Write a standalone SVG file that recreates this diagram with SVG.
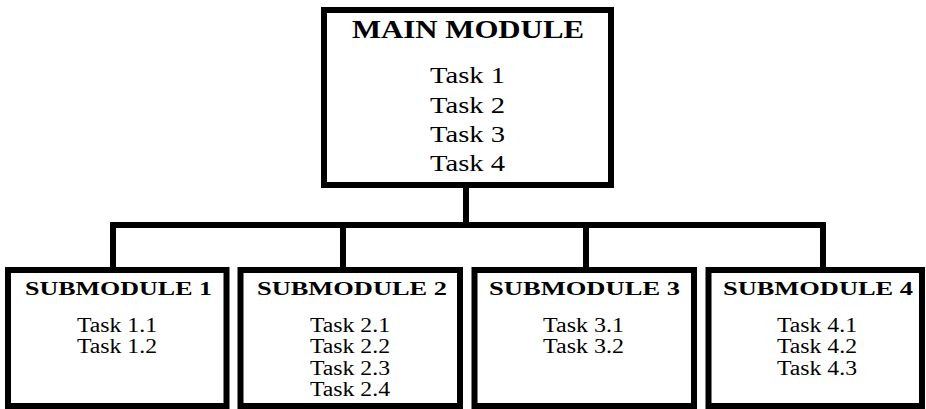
<svg xmlns="http://www.w3.org/2000/svg" width="926" height="409" viewBox="0 0 926 409">
<style>
.box{fill:#fff;stroke:#000;stroke-width:6}
.conn{fill:none;stroke:#000;stroke-width:6;stroke-linejoin:miter;stroke-linecap:square}
text{font-family:"Liberation Serif","DejaVu Serif",serif;fill:#000;text-anchor:middle}
.mt{font-size:25px;font-weight:bold}
.mtask{font-size:24px}
.st{font-size:18px;font-weight:bold}
.stask{font-size:20px}
</style>
<rect width="926" height="409" fill="#fff"/>
<g id="connectors">
<path class="conn" d="M466 185V225"/>
<path class="conn" d="M113 270V225H823V270"/>
<path class="conn" d="M343 225V270"/>
<path class="conn" d="M586 225V270"/>
</g>
<g id="main">
<rect class="box" x="324" y="10" width="287" height="175"/>
<text class="mt" x="468" y="38" textLength="232" lengthAdjust="spacingAndGlyphs">MAIN MODULE</text>
<text class="mtask" x="467.5" y="83" textLength="75" lengthAdjust="spacingAndGlyphs">Task 1</text>
<text class="mtask" x="467.5" y="112.5" textLength="75" lengthAdjust="spacingAndGlyphs">Task 2</text>
<text class="mtask" x="467.5" y="141.5" textLength="75" lengthAdjust="spacingAndGlyphs">Task 3</text>
<text class="mtask" x="467.5" y="170.5" textLength="75" lengthAdjust="spacingAndGlyphs">Task 4</text>
</g>
<g id="sub1">
<rect class="box" x="8" y="270" width="218.5" height="136"/>
<text class="st" x="118.5" y="295" textLength="187" lengthAdjust="spacingAndGlyphs">SUBMODULE 1</text>
<text class="stask" x="117" y="332" textLength="80" lengthAdjust="spacingAndGlyphs">Task 1.1</text>
<text class="stask" x="117" y="353" textLength="80" lengthAdjust="spacingAndGlyphs">Task 1.2</text>
</g>
<g id="sub2">
<rect class="box" x="240.5" y="270" width="219.5" height="136"/>
<text class="st" x="352" y="295" textLength="190" lengthAdjust="spacingAndGlyphs">SUBMODULE 2</text>
<text class="stask" x="350" y="332" textLength="80" lengthAdjust="spacingAndGlyphs">Task 2.1</text>
<text class="stask" x="350" y="353" textLength="80" lengthAdjust="spacingAndGlyphs">Task 2.2</text>
<text class="stask" x="350" y="375" textLength="80" lengthAdjust="spacingAndGlyphs">Task 2.3</text>
<text class="stask" x="350" y="396" textLength="80" lengthAdjust="spacingAndGlyphs">Task 2.4</text>
</g>
<g id="sub3">
<rect class="box" x="474.5" y="270" width="219.5" height="136"/>
<text class="st" x="584.5" y="295" textLength="191" lengthAdjust="spacingAndGlyphs">SUBMODULE 3</text>
<text class="stask" x="583.5" y="332" textLength="81" lengthAdjust="spacingAndGlyphs">Task 3.1</text>
<text class="stask" x="583.5" y="353" textLength="81" lengthAdjust="spacingAndGlyphs">Task 3.2</text>
</g>
<g id="sub4">
<rect class="box" x="708.5" y="270" width="213.5" height="136"/>
<text class="st" x="818" y="295" textLength="190" lengthAdjust="spacingAndGlyphs">SUBMODULE 4</text>
<text class="stask" x="817" y="332" textLength="80" lengthAdjust="spacingAndGlyphs">Task 4.1</text>
<text class="stask" x="817" y="353" textLength="80" lengthAdjust="spacingAndGlyphs">Task 4.2</text>
<text class="stask" x="817" y="375" textLength="80" lengthAdjust="spacingAndGlyphs">Task 4.3</text>
</g>
</svg>
